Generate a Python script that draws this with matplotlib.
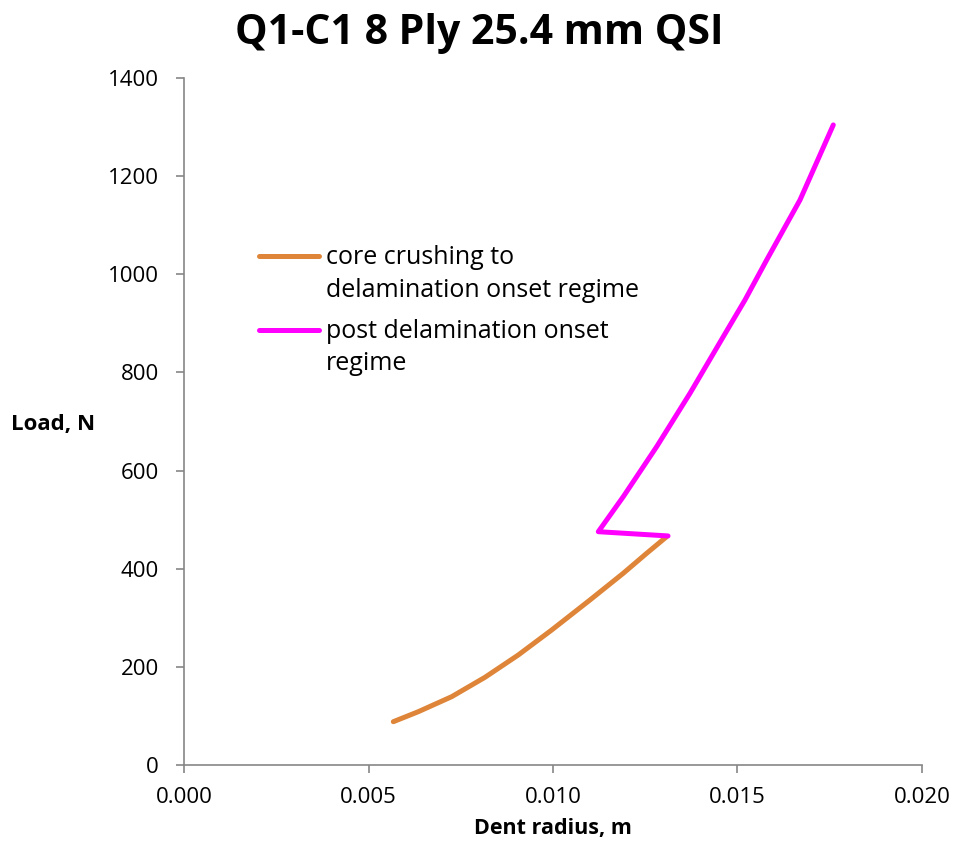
import matplotlib.pyplot as plt

plt.rcParams['font.family'] = ['Open Sans', 'DejaVu Sans']

# core crushing to delamination onset regime
crush_x = [0.005672, 0.006350, 0.007255, 0.008157, 0.009060, 0.009965,
           0.011003, 0.011905, 0.012539, 0.013081]
crush_y = [88.2, 108.6, 139.2, 178.7, 224.2, 275.1, 336.3, 390.7, 431.4, 465.3]

# post delamination onset regime
post_x = [0.013117, 0.011228, 0.011905, 0.012810, 0.013713, 0.014615,
          0.015203, 0.015791, 0.016694, 0.017596]
post_y = [466.7, 475.4, 546.8, 648.7, 757.5, 872.8, 947.6, 1029.1, 1151.4, 1304.3]

fig = plt.figure(figsize=(9.59, 8.41), dpi=100)
ax = fig.add_axes([0.1919, 0.0904, 0.7695, 0.8169])

ax.plot(crush_x, crush_y, color='#DF8539', lw=3.6, solid_capstyle='round',
        solid_joinstyle='round', label='core crushing to\ndelamination onset regime')
ax.plot(post_x, post_y, color='#FF00FF', lw=3.6, solid_capstyle='round',
        solid_joinstyle='round', label='post delamination onset\nregime')

ax.set_xlim(0, 0.020)
ax.set_ylim(0, 1400)
ax.set_xticks([0, 0.005, 0.010, 0.015, 0.020])
ax.set_xticklabels(['0.000', '0.005', '0.010', '0.015', '0.020'])
ax.set_yticks(range(0, 1401, 200))

for s in ['top', 'right']:
    ax.spines[s].set_visible(False)
for s in ['left', 'bottom']:
    ax.spines[s].set_color('#868686')
    ax.spines[s].set_linewidth(1.2)
ax.tick_params(axis='both', colors='#868686', labelcolor='black', labelsize=16,
               length=6, width=1.2, direction='out')
ax.tick_params(axis='x', pad=10)
ax.tick_params(axis='y', pad=12)

ax.set_xlabel('Dent radius, m', fontsize=15.5, fontweight='bold', labelpad=7)
ax.set_ylabel('Load, N', fontsize=16, fontweight='bold', rotation=0, labelpad=0)
ax.yaxis.set_label_coords(-0.1775, 0.48)
fig.suptitle('Q1-C1 8 Ply 25.4 mm QSI', fontsize=29.5, fontweight='bold', y=0.985)

leg = ax.legend(loc='upper left', bbox_to_anchor=(0.085, 0.775), frameon=False,
                fontsize=18, handlelength=2.4, handletextpad=0.25, labelspacing=0.62,
                borderpad=0)
for t in leg.get_texts():
    t.set_linespacing(1.42)
for line in leg.get_lines():
    line.set_linewidth(3.6)
    line.set_solid_capstyle('round')
    line.set_ydata([y + 13.5 for y in line.get_ydata()])

plt.savefig('out.png')
